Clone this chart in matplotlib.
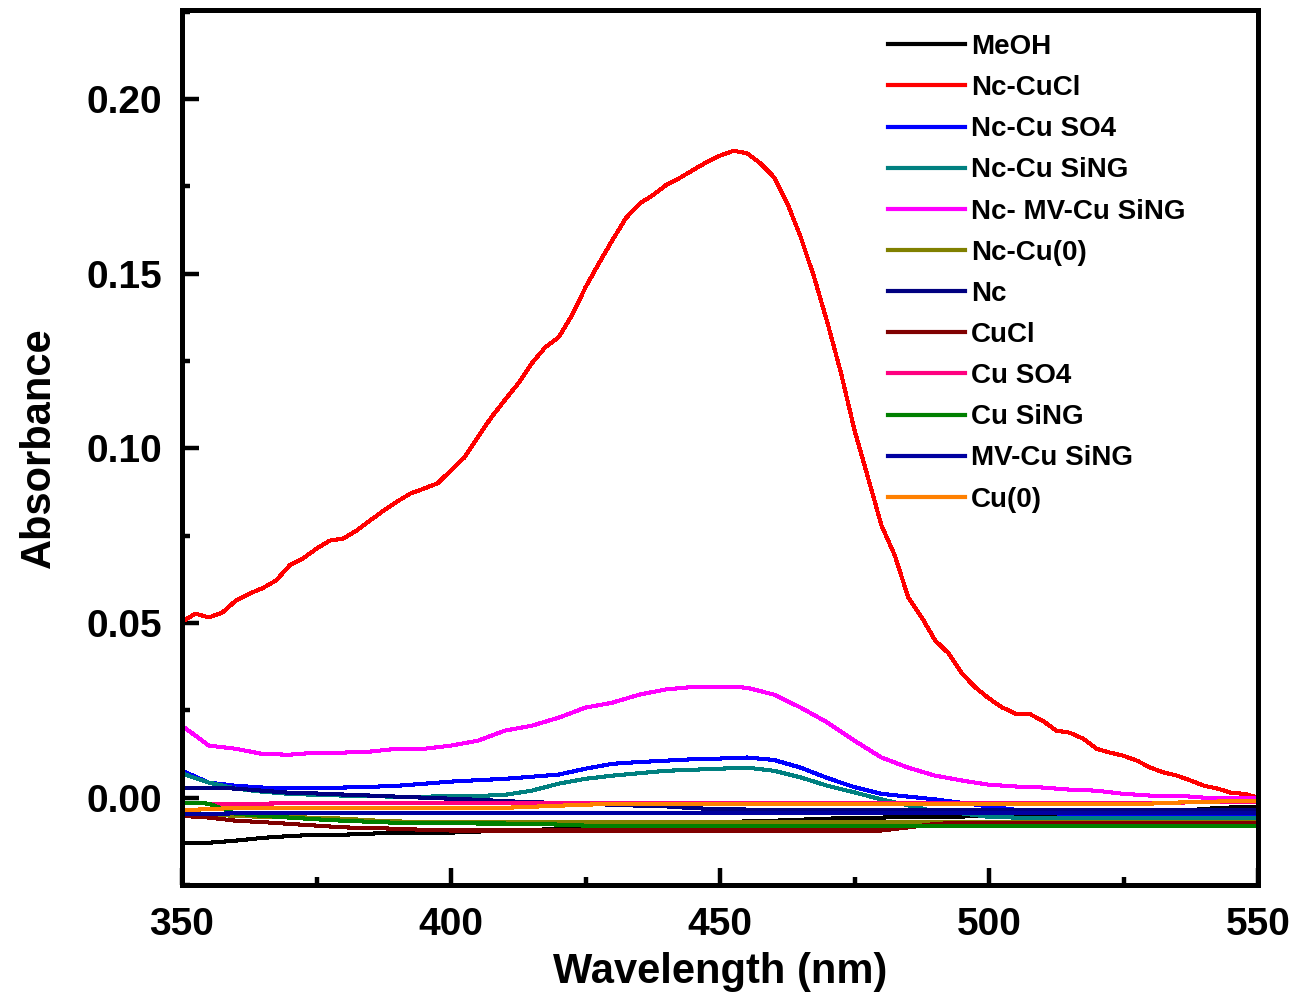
import numpy as np
import matplotlib.pyplot as plt
from matplotlib.ticker import MultipleLocator

plt.rcParams['font.family'] = ['Liberation Sans', 'DejaVu Sans']
plt.rcParams['font.weight'] = 'bold'

wavelength = np.arange(350, 551, 5)
# the Nc-CuCl trace is read at a finer step
wavelength_fine = np.arange(350, 550.1, 2.5)

meoh = [-0.0129, -0.0129, -0.0123, -0.0115, -0.0110, -0.0106, -0.0106, -0.0103, -0.0100, -0.0100,
        -0.0100, -0.0097, -0.0095, -0.0092, -0.0090, -0.0088, -0.0086, -0.0083, -0.0080, -0.0075,
        -0.0070, -0.0068, -0.0066, -0.0063, -0.0060, -0.0058, -0.0057, -0.0055, -0.0055, -0.0054,
        -0.0052, -0.0052, -0.0052, -0.0050, -0.0050, -0.0048, -0.0045, -0.0040, -0.0032, -0.0028,
        -0.0026]
nc_cucl = [0.0504, 0.0527, 0.0516, 0.0530, 0.0564, 0.0584, 0.0600, 0.0622, 0.0665, 0.0685,
           0.0713, 0.0736, 0.0742, 0.0765, 0.0794, 0.0822, 0.0848, 0.0871, 0.0885, 0.0900,
           0.0937, 0.0974, 0.1032, 0.1089, 0.1138, 0.1186, 0.1243, 0.1289, 0.1318, 0.1381,
           0.1461, 0.1530, 0.1596, 0.1659, 0.1700, 0.1725, 0.1754, 0.1774, 0.1797, 0.1819,
           0.1838, 0.1852, 0.1845, 0.1816, 0.1777, 0.1702, 0.1605, 0.1490, 0.1358, 0.1215,
           0.1052, 0.0917, 0.0780, 0.0693, 0.0573, 0.0516, 0.0450, 0.0413, 0.0355, 0.0315,
           0.0284, 0.0258, 0.0240, 0.0240, 0.0220, 0.0192, 0.0186, 0.0169, 0.0140, 0.0129,
           0.0120, 0.0106, 0.0086, 0.0072, 0.0063, 0.0049, 0.0034, 0.0026, 0.0014, 0.0011,
           0.0000]
nc_cuso4 = [0.0077, 0.0043, 0.0034, 0.0029, 0.0029, 0.0029, 0.0029, 0.0031, 0.0034, 0.0040,
            0.0046, 0.0050, 0.0054, 0.0060, 0.0066, 0.0083, 0.0097, 0.0102, 0.0106, 0.0110,
            0.0112, 0.0115, 0.0108, 0.0086, 0.0056, 0.0030, 0.0011, 0.0003, -0.0005, -0.0015,
            -0.0025, -0.0035, -0.0042, -0.0048, -0.0052, -0.0052, -0.0052, -0.0052, -0.0052, -0.0052,
            -0.0052]
nc_cusing = [0.0069, 0.0043, 0.0026, 0.0017, 0.0011, 0.0008, 0.0006, 0.0004, 0.0003, 0.0003,
             0.0004, 0.0005, 0.0008, 0.0020, 0.0040, 0.0054, 0.0063, 0.0070, 0.0077, 0.0080,
             0.0083, 0.0086, 0.0077, 0.0058, 0.0034, 0.0015, -0.0005, -0.0022, -0.0040, -0.0045,
             -0.0055, -0.0057, -0.0057, -0.0057, -0.0057, -0.0057, -0.0057, -0.0057, -0.0057, -0.0057,
             -0.0057]
nc_mv_cusing = [0.0206, 0.0149, 0.0140, 0.0125, 0.0123, 0.0129, 0.0129, 0.0132, 0.0140, 0.0140,
                0.0149, 0.0163, 0.0192, 0.0206, 0.0229, 0.0258, 0.0272, 0.0295, 0.0310, 0.0317,
                0.0318, 0.0315, 0.0295, 0.0258, 0.0215, 0.0163, 0.0115, 0.0086, 0.0063, 0.0049,
                0.0037, 0.0032, 0.0029, 0.0023, 0.0020, 0.0011, 0.0006, 0.0006, 0.0000, 0.0000,
                0.0000]
nc_cu0 = [-0.0040, -0.0048, -0.0052, -0.0055, -0.0055, -0.0058, -0.0060, -0.0065, -0.0068, -0.0070,
          -0.0070, -0.0070, -0.0070, -0.0070, -0.0070, -0.0070, -0.0070, -0.0070, -0.0070, -0.0070,
          -0.0070, -0.0070, -0.0070, -0.0070, -0.0070, -0.0070, -0.0070, -0.0070, -0.0070, -0.0070,
          -0.0070, -0.0070, -0.0070, -0.0070, -0.0070, -0.0070, -0.0070, -0.0070, -0.0070, -0.0070,
          -0.0070]
nc = [0.0029, 0.0029, 0.0026, 0.0020, 0.0014, 0.0012, 0.0009, 0.0006, 0.0003, 0.0000,
      -0.0003, -0.0006, -0.0010, -0.0013, -0.0015, -0.0018, -0.0020, -0.0023, -0.0025, -0.0030,
      -0.0033, -0.0034, -0.0034, -0.0034, -0.0034, -0.0034, -0.0034, -0.0034, -0.0034, -0.0034,
      -0.0034, -0.0034, -0.0034, -0.0034, -0.0034, -0.0034, -0.0034, -0.0034, -0.0034, -0.0034,
      -0.0034]
cucl = [-0.0052, -0.0057, -0.0066, -0.0070, -0.0075, -0.0080, -0.0085, -0.0087, -0.0089, -0.0092,
        -0.0094, -0.0094, -0.0094, -0.0094, -0.0094, -0.0094, -0.0094, -0.0094, -0.0094, -0.0094,
        -0.0094, -0.0094, -0.0094, -0.0094, -0.0094, -0.0094, -0.0094, -0.0085, -0.0075, -0.0072,
        -0.0072, -0.0072, -0.0072, -0.0072, -0.0072, -0.0072, -0.0072, -0.0072, -0.0072, -0.0072,
        -0.0072]
cuso4 = [-0.0014, -0.0017, -0.0017, -0.0017, -0.0016, -0.0016, -0.0016, -0.0016, -0.0016, -0.0016,
         -0.0016, -0.0016, -0.0016, -0.0016, -0.0016, -0.0016, -0.0016, -0.0016, -0.0016, -0.0016,
         -0.0016, -0.0016, -0.0016, -0.0016, -0.0016, -0.0016, -0.0016, -0.0016, -0.0016, -0.0016,
         -0.0016, -0.0016, -0.0016, -0.0016, -0.0016, -0.0015, -0.0015, -0.0014, -0.0013, -0.0012,
         -0.0012]
cusing = [-0.0014, -0.0017, -0.0046, -0.0052, -0.0057, -0.0062, -0.0066, -0.0069, -0.0072, -0.0072,
          -0.0072, -0.0074, -0.0074, -0.0075, -0.0077, -0.0080, -0.0082, -0.0082, -0.0082, -0.0082,
          -0.0082, -0.0082, -0.0082, -0.0082, -0.0082, -0.0082, -0.0082, -0.0082, -0.0082, -0.0082,
          -0.0082, -0.0082, -0.0082, -0.0082, -0.0082, -0.0082, -0.0082, -0.0082, -0.0082, -0.0082,
          -0.0082]
mv_cusing = [-0.0046, -0.0046, -0.0045, -0.0045, -0.0045, -0.0044, -0.0044, -0.0044, -0.0044, -0.0044,
             -0.0044, -0.0044, -0.0044, -0.0044, -0.0044, -0.0044, -0.0044, -0.0044, -0.0044, -0.0044,
             -0.0044, -0.0044, -0.0044, -0.0044, -0.0044, -0.0044, -0.0044, -0.0044, -0.0044, -0.0044,
             -0.0044, -0.0044, -0.0044, -0.0044, -0.0044, -0.0044, -0.0044, -0.0044, -0.0044, -0.0044,
             -0.0044]
cu0 = [-0.0037, -0.0032, -0.0030, -0.0030, -0.0030, -0.0029, -0.0029, -0.0029, -0.0029, -0.0029,
       -0.0029, -0.0029, -0.0029, -0.0026, -0.0023, -0.0020, -0.0018, -0.0017, -0.0017, -0.0017,
       -0.0017, -0.0017, -0.0017, -0.0017, -0.0017, -0.0017, -0.0017, -0.0017, -0.0017, -0.0017,
       -0.0017, -0.0017, -0.0017, -0.0017, -0.0017, -0.0017, -0.0017, -0.0014, -0.0012, -0.0010,
       -0.0010]

labels = ['MeOH', 'Nc-CuCl', 'Nc-Cu SO4', 'Nc-Cu SiNG', 'Nc- MV-Cu SiNG', 'Nc-Cu(0)',
          'Nc', 'CuCl', 'Cu SO4', 'Cu SiNG', 'MV-Cu SiNG', 'Cu(0)']
series = [meoh, nc_cucl, nc_cuso4, nc_cusing, nc_mv_cusing, nc_cu0,
          nc, cucl, cuso4, cusing, mv_cusing, cu0]
colors = ['#000000', '#FF0000', '#0000FF', '#008080', '#FF00FF', '#808000',
          '#000080', '#800000', '#FF0080', '#008000', '#0000A0', '#FF8000']

fig = plt.figure(figsize=(12.94, 10.02), dpi=100)
ax = fig.add_axes([182 / 1294, 1 - 885 / 1002, (1258 - 182) / 1294, (885 - 10) / 1002])

for y, c, lab in zip(series, colors, labels):
    x = wavelength_fine if len(y) == len(wavelength_fine) else wavelength
    ax.plot(x, y, color=c, lw=2.2, label=lab, antialiased=False)

ax.set_xlim(350, 550)
ax.set_ylim(-0.025, 0.2255)
ax.xaxis.set_major_locator(MultipleLocator(50))
ax.xaxis.set_minor_locator(MultipleLocator(25))
ax.yaxis.set_major_locator(MultipleLocator(0.05))
ax.yaxis.set_minor_locator(MultipleLocator(0.025))
ax.yaxis.set_major_formatter(plt.FormatStrFormatter('%.2f'))

for s in ax.spines.values():
    s.set_linewidth(3.6)
ax.tick_params(which='major', direction='in', length=12, width=3.2, labelsize=28, pad=14)
ax.tick_params(which='minor', direction='in', length=6, width=3.2)
ax.tick_params(axis='x', pad=16)

ax.set_xlabel('Wavelength (nm)', fontsize=30, fontweight='bold', labelpad=6)
ax.set_ylabel('Absorbance', fontsize=30, fontweight='bold', labelpad=20)

leg = ax.legend(loc='upper left', bbox_to_anchor=(888 / 1294, 1 - 34 / 1002),
                bbox_transform=fig.transFigure, frameon=False, fontsize=20,
                handlelength=2.77, handletextpad=0.22, labelspacing=0.545,
                borderpad=0, borderaxespad=0)
for line in leg.get_lines():
    line.set_linewidth(3)

fig.savefig('out.png', dpi=100)
